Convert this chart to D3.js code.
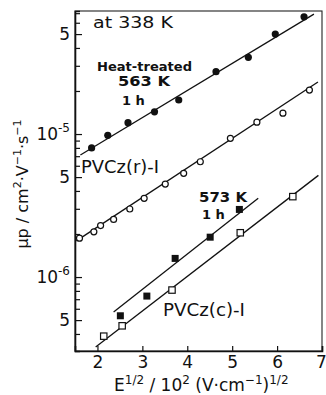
<!DOCTYPE html>
<html>
<head>
<meta charset="utf-8">
<script src="https://cdn.jsdelivr.net/npm/d3@7"></script>
<style>
  html, body { margin: 0; padding: 0; background: #fff; }
  svg { display: block; font-family: "DejaVu Sans", sans-serif; }
</style>
</head>
<body>
<div id="chart"></div>
<script>
// heat-treated 563 K, 1 h (filled circles)
const heatX = [1.87, 2.23, 2.68, 3.27, 3.81, 4.64, 5.36, 5.96, 6.60];
const heatY = [8.0e-6, 9.8e-6, 1.2e-5, 1.43e-5, 1.73e-5, 2.73e-5, 3.44e-5, 5.0e-5, 6.6e-5];
// PVCz(r)-I (open circles)
const rX = [1.60, 1.92, 2.07, 2.36, 2.72, 3.04, 3.51, 3.92, 4.29, 4.96, 5.55, 6.13, 6.72];
const rY = [1.87e-6, 2.07e-6, 2.29e-6, 2.53e-6, 2.99e-6, 3.55e-6, 4.47e-6, 5.31e-6, 6.4e-6, 9.33e-6, 1.21e-5, 1.40e-5, 2.03e-5];
// heat-treated 573 K, 1 h (filled squares)
const h573X = [2.51, 3.10, 3.73, 4.51, 5.16];
const h573Y = [5.36e-7, 7.36e-7, 1.35e-6, 1.9e-6, 2.97e-6];
// PVCz(c)-I (open squares)
const cX = [2.14, 2.55, 3.66, 5.18, 6.35];
const cY = [3.86e-7, 4.56e-7, 8.11e-7, 2.04e-6, 3.65e-6];

// fitted straight lines: end points
const heatLineX = [1.62, 6.82], heatLineY = [7.13e-6, 6.9e-5];
const rLineX = [1.53, 6.91], rLineY = [1.79e-6, 2.31e-5];
const h573LineX = [2.36, 5.58], h573LineY = [5.69e-7, 3.55e-6];
const cLineX = [1.96, 6.92], cLineY = [3.24e-7, 5.14e-6];

const xDomain = [1.5, 7];
const yDomain = [3.04e-7, 7.25e-5];
const xTickValues = [2, 3, 4, 5, 6, 7];
const yLabelValues = [5e-7, 1e-6, 5e-6, 1e-5, 5e-5];

const W = 326, H = 395;
const plotL = 75, plotR = 322, plotT = 11, plotB = 351;

const svg = d3.select('#chart').append('svg')
  .attr('width', W)
  .attr('height', H);

const x = d3.scaleLinear().domain(xDomain).range([plotL, plotR]);
const y = d3.scaleLog().domain(yDomain).range([plotB, plotT]);

// frame
svg.append('rect')
  .attr('x', plotL).attr('y', plotT)
  .attr('width', plotR - plotL).attr('height', plotB - plotT)
  .attr('fill', 'none').attr('stroke', '#222').attr('stroke-width', 1.1);

// y axis (ticks pointing inward)
const isDecade = v => Math.abs(Math.log10(v) - Math.round(Math.log10(v))) < 1e-9;
const yTicks = y.ticks().filter(v => v >= yDomain[0] && v <= yDomain[1]);
const yAxis = svg.append('g')
  .attr('transform', `translate(${plotL},0)`)
  .call(d3.axisLeft(y).tickValues(yTicks).tickSize(-5).tickPadding(6).tickFormat(''));
yAxis.select('.domain').attr('stroke', '#111').attr('stroke-width', 1.6);
yAxis.selectAll('.tick line')
  .attr('x2', d => (isDecade(d) || yLabelValues.includes(d)) ? 7 : 5)
  .attr('stroke', '#111').attr('stroke-width', 1.2);

yLabelValues.forEach(v => {
  const t = svg.append('text')
    .attr('x', plotL - 5)
    .attr('y', y(v) + 6)
    .attr('text-anchor', 'end')
    .attr('font-size', 17)
    .attr('fill', '#111');
  if (isDecade(v)) {
    t.append('tspan').text('10');
    t.append('tspan').attr('dy', -8).attr('font-size', 12).text(String(Math.round(Math.log10(v))));
  } else {
    t.text(String(Math.round(v / Math.pow(10, Math.floor(Math.log10(v))))));
  }
});

// x axis (ticks pointing inward)
const xAxis = svg.append('g')
  .attr('transform', `translate(0,${plotB})`)
  .call(d3.axisBottom(x).tickValues(xTickValues).tickSize(-5).tickPadding(5).tickFormat(d3.format('d')));
xAxis.select('.domain').attr('stroke', '#111').attr('stroke-width', 1.6);
xAxis.selectAll('.tick line').attr('stroke', '#111').attr('stroke-width', 1.2);
xAxis.selectAll('.tick text')
  .attr('font-size', 17).attr('fill', '#111')
  .attr('font-family', '"DejaVu Sans", sans-serif')
  .attr('dx', d => d === 7 ? -1 : 0);

// fit lines
const line = d3.line().x(d => x(d[0])).y(d => y(d[1]));
[[heatLineX, heatLineY], [rLineX, rLineY], [h573LineX, h573LineY], [cLineX, cLineY]].forEach(([lx, ly]) => {
  svg.append('path')
    .datum(d3.zip(lx, ly))
    .attr('d', line)
    .attr('fill', 'none')
    .attr('stroke', '#111')
    .attr('stroke-width', 1.3);
});

// markers
svg.append('g').selectAll('circle').data(d3.zip(heatX, heatY)).enter().append('circle')
  .attr('cx', d => x(d[0])).attr('cy', d => y(d[1])).attr('r', 3.6)
  .attr('fill', '#111');

svg.append('g').selectAll('circle').data(d3.zip(rX, rY)).enter().append('circle')
  .attr('cx', d => x(d[0])).attr('cy', d => y(d[1])).attr('r', 3)
  .attr('fill', '#fff').attr('stroke', '#111').attr('stroke-width', 1.2);

svg.append('g').selectAll('rect').data(d3.zip(h573X, h573Y)).enter().append('rect')
  .attr('x', d => x(d[0]) - 3.5).attr('y', d => y(d[1]) - 3.5)
  .attr('width', 7).attr('height', 7)
  .attr('fill', '#111');

svg.append('g').selectAll('rect').data(d3.zip(cX, cY)).enter().append('rect')
  .attr('x', d => x(d[0]) - 3.2).attr('y', d => y(d[1]) - 3.2)
  .attr('width', 6.4).attr('height', 6.4)
  .attr('fill', '#fff').attr('stroke', '#111').attr('stroke-width', 1.2);

// annotations
function label(txt, lx, ly, size, weight, len) {
  const t = svg.append('text')
    .attr('x', lx).attr('y', ly)
    .attr('font-size', size)
    .attr('font-weight', weight || 'normal')
    .attr('fill', '#111')
    .text(txt);
  if (len) t.attr('textLength', len).attr('lengthAdjust', 'spacingAndGlyphs');
  return t;
}
label('at 338 K', 93, 28, 15, 'normal', 80);
label('Heat-treated', 97, 71, 12.5, 'bold', 95);
label('563 K', 118, 86, 13.5, 'bold', 52);
label('1 h', 122, 105, 13, 'bold');
label('PVCz(r)-I', 81, 173, 17, 'normal', 78);
label('573 K', 199, 202, 14, 'bold', 48);
label('1 h', 202, 219, 13, 'bold');
label('PVCz(c)-I', 163, 316, 17, 'normal', 82);

// x axis title
const xt = svg.append('text')
  .attr('x', 114).attr('y', 391)
  .attr('font-size', 17).attr('fill', '#111');
xt.append('tspan').text('E');
xt.append('tspan').attr('dy', -7).attr('font-size', 12).text('1/2');
xt.append('tspan').attr('dy', 7).text(' / 10');
xt.append('tspan').attr('dy', -7).attr('font-size', 12).text('2');
xt.append('tspan').attr('dy', 7).text(' (V·cm');
xt.append('tspan').attr('dy', -7).attr('font-size', 12).text('−1');
xt.append('tspan').attr('dy', 7).text(')');
xt.append('tspan').attr('dy', -7).attr('font-size', 12).text('1/2');

// y axis title
const yt = svg.append('text')
  .attr('transform', 'translate(28,184) rotate(-90)')
  .attr('text-anchor', 'middle')
  .attr('font-size', 16).attr('fill', '#111');
yt.append('tspan').text('μp / cm');
yt.append('tspan').attr('dy', -7).attr('font-size', 11).text('2');
yt.append('tspan').attr('dy', 7).text('·V');
yt.append('tspan').attr('dy', -7).attr('font-size', 11).text('−1');
yt.append('tspan').attr('dy', 7).text('·s');
yt.append('tspan').attr('dy', -7).attr('font-size', 11).text('−1');
</script>
</body>
</html>
